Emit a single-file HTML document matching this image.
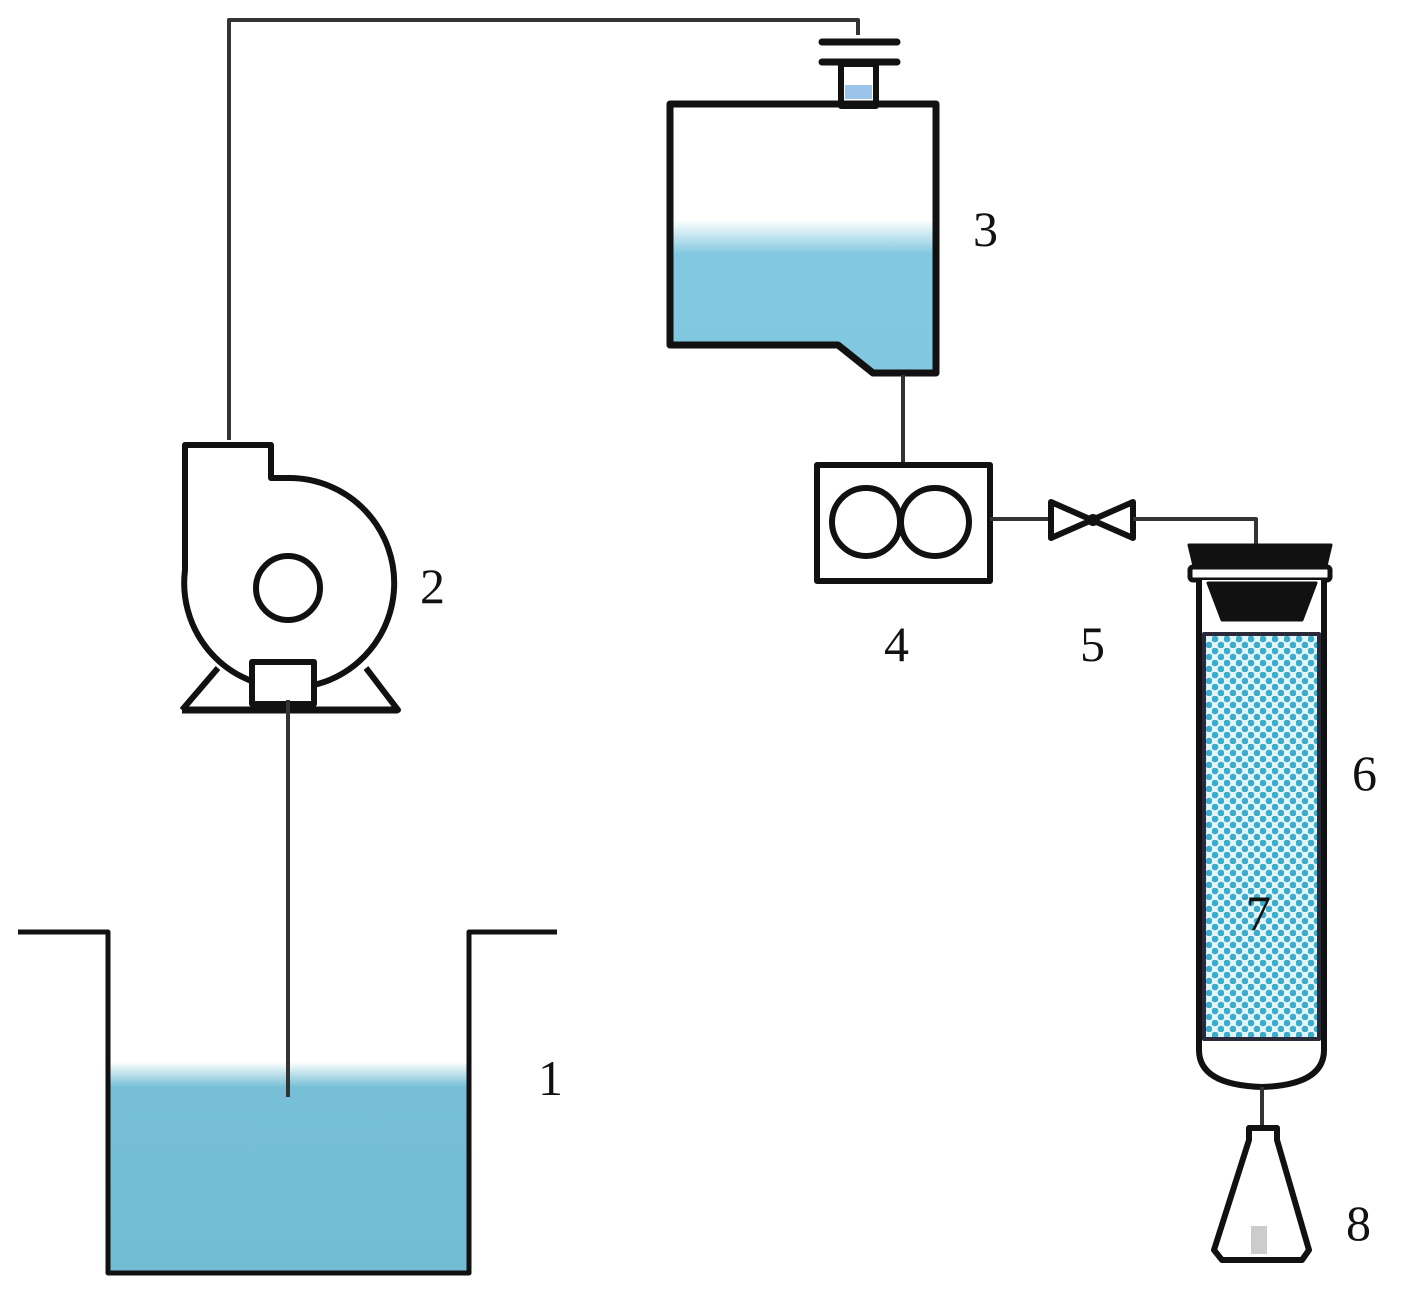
<!DOCTYPE html>
<html><head><style>html,body{margin:0;padding:0;background:#fff}svg{display:block}
text{font-family:"Liberation Serif",serif;font-size:50px;fill:#111}</style></head>
<body>
<svg width="1417" height="1297" viewBox="0 0 1417 1297" xmlns="http://www.w3.org/2000/svg">
<defs>
<linearGradient id="w1" x1="0" y1="0" x2="0" y2="1"><stop offset="0" stop-color="#fff"/><stop offset="0.12" stop-color="#76bfd6"/><stop offset="1" stop-color="#72bdd4"/></linearGradient>
<linearGradient id="w3" x1="0" y1="0" x2="0" y2="1"><stop offset="0" stop-color="#fff"/><stop offset="0.22" stop-color="#82c8e0"/><stop offset="1" stop-color="#80c7df"/></linearGradient>
<pattern id="pk" width="12" height="12" patternUnits="userSpaceOnUse">
<rect width="12" height="12" fill="#e4f5fa"/>
<circle cx="3" cy="3" r="3.3" fill="#3aaccc"/><circle cx="9" cy="9" r="3.3" fill="#3aaccc"/>
</pattern>
</defs>
<g fill="none" stroke="#111" stroke-linejoin="round">
<!-- main pipe -->
<path d="M229 440 V20 H858 V35" stroke="#333" stroke-width="4"/>
<path d="M288 700 V1095" stroke="#333" stroke-width="4"/>
<!-- flanges -->
<line x1="822" y1="42" x2="897" y2="42" stroke-width="7" stroke-linecap="round"/>
<line x1="822" y1="62" x2="897" y2="62" stroke-width="7" stroke-linecap="round"/>
<rect x="841" y="64" width="35" height="42" fill="#fff" stroke-width="6"/>
<rect x="845" y="85" width="27" height="14" fill="#9cc4ea" stroke="none"/>
<!-- tank 3 -->
<path d="M670 220 H936 V373 H873 L838 345 H670 Z" fill="url(#w3)" stroke="none"/>
<path d="M670 104 H936 V373 H873 L838 345 H670 Z" stroke-width="7"/>
<line x1="903" y1="375" x2="903" y2="465" stroke="#333" stroke-width="4"/>
<!-- pump 4 -->
<rect x="817" y="465" width="173" height="116" stroke-width="6" fill="#fff"/>
<circle cx="866" cy="522" r="34" stroke-width="6"/>
<circle cx="935" cy="522" r="34" stroke-width="6"/>
<line x1="990" y1="519" x2="1050" y2="519" stroke="#333" stroke-width="4"/>
<!-- valve -->
<path d="M1051 502 L1092 520 L1051 538 Z M1133 502 L1092 520 L1133 538 Z" stroke-width="6"/>
<circle cx="1093" cy="520" r="6" fill="#111" stroke="none"/>
<path d="M1133 519 H1256 V548" stroke="#333" stroke-width="4"/>
<!-- column 6 -->
<path d="M1189 545 H1331 L1326 566 H1194 Z" fill="#111" stroke-width="3"/>
<rect x="1190" y="567" width="140" height="13" rx="3" fill="#fff" stroke-width="5"/>
<path d="M1199 580 V1050 Q1199 1085 1262 1087 Q1324 1085 1324 1050 V580" stroke-width="6" fill="#fff"/>
<path d="M1208 583 H1316 L1302 620 H1222 Z" fill="#111" stroke-width="3"/>
<rect x="1204" y="634" width="115" height="405" fill="url(#pk)" stroke="#2a2a3a" stroke-width="4"/>
<line x1="1262" y1="1087" x2="1262" y2="1128" stroke="#333" stroke-width="4"/>
<!-- flask -->
<path d="M1249 1128 H1277 V1140 L1309 1250 L1302 1260 H1222 L1214 1250 L1249 1140 Z" stroke-width="6" fill="#fff"/>
<rect x="1251" y="1226" width="16" height="28" fill="#ccc" stroke="none"/>
<!-- pump 2 -->
<path d="M185 445 H271 V478 H290 A105 105 0 1 1 185 570 Z" fill="#fff" stroke-width="6"/>
<circle cx="288" cy="588" r="32" stroke-width="6"/>
<path d="M182 710 H398 L366 668 M182 710 L218 668" stroke-width="6"/>
<rect x="252" y="662" width="62" height="42" fill="#fff" stroke-width="6"/>
<line x1="182" y1="710" x2="398" y2="710" stroke-width="7"/>
<!-- tank 1 -->
<rect x="110" y="1062" width="358" height="210" fill="url(#w1)" stroke="none"/>
<path d="M18 932 H108 V1273 H469 V932 H557" stroke-width="5"/>
<line x1="288" y1="700" x2="288" y2="1097" stroke="#333" stroke-width="4"/>
</g>
<text x="538" y="1095">1</text>
<text x="420" y="603">2</text>
<text x="973" y="246">3</text>
<text x="884" y="661">4</text>
<text x="1080" y="661">5</text>
<text x="1352" y="790">6</text>
<text x="1246" y="930">7</text>
<text x="1346" y="1240">8</text>
</svg>
</body></html>
